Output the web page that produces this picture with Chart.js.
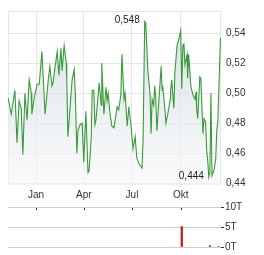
<!DOCTYPE html>
<html>
<head>
<meta charset="utf-8">
<script src="https://cdn.jsdelivr.net/npm/chart.js@4/dist/chart.umd.min.js"></script>
<style>
  html, body { margin: 0; padding: 0; background: #fff; }
  #wrap { position: relative; width: 264px; height: 255px; }
  canvas { position: absolute; left: 0; }
  #priceChart { top: 0; }
  #volumeChart { top: 200px; }
</style>
</head>
<body>
<div id="wrap">
  <canvas id="priceChart" width="264" height="200"></canvas>
  <canvas id="volumeChart" width="264" height="55"></canvas>
</div>
<script>
// Day offsets from 1 Jan
const days = [-53,-49,-47,-43,-40,-36,-32,-28,-25,-21,-17,-13,-9,-8,-4,2,6,11,17,23,26,30,32,36,40,43,47,49,53,57,58,60,64,68,72,74,77,79,83,87,90,94,98,100,104,106,109,111,113,119,123,124,128,132,134,136,139,143,147,153,156,160,162,166,168,172,175,179,183,187,190,194,196,200,202,205,207,211,215,217,219,222,224,226,228,232,236,238,239,243,245,249,253,254,256,260,262,266,270,273,275,277,279,281,285,286,288,292,296,300,302,303,305,309,311,315,317,320,322,324,326,328,330,332,336,339,341,343,348];
const prices = [0.497,0.490,0.486,0.495,0.502,0.467,0.495,0.490,0.459,0.500,0.482,0.509,0.500,0.486,0.496,0.506,0.506,0.528,0.486,0.509,0.518,0.505,0.507,0.518,0.528,0.512,0.530,0.515,0.532,0.520,0.509,0.471,0.490,0.509,0.516,0.500,0.460,0.475,0.479,0.480,0.454,0.488,0.447,0.448,0.470,0.502,0.502,0.479,0.482,0.507,0.492,0.520,0.486,0.504,0.495,0.500,0.488,0.478,0.477,0.491,0.489,0.499,0.526,0.496,0.500,0.478,0.491,0.479,0.463,0.471,0.457,0.453,0.452,0.450,0.470,0.548,0.547,0.515,0.500,0.473,0.496,0.492,0.505,0.496,0.475,0.496,0.518,0.502,0.505,0.490,0.480,0.487,0.496,0.502,0.509,0.490,0.514,0.532,0.537,0.542,0.503,0.532,0.533,0.519,0.526,0.510,0.526,0.505,0.499,0.496,0.501,0.490,0.483,0.511,0.510,0.473,0.483,0.481,0.462,0.455,0.444,0.447,0.500,0.445,0.449,0.456,0.475,0.481,0.537];

const monthDays = [0, 90, 181, 273];
const monthLabels = ['Jan', 'Apr', 'Jul', 'Okt'];
const priceTicks = [0.44, 0.46, 0.48, 0.50, 0.52, 0.54];

const volDays = [275, 328, 345];
const volValues = [5.1, 0.3, 0.15];
const volDirection = ['down', 'down', 'up'];
const volTicks = [0, 5, 10];

const X_MIN = -53;
const X_MAX = 349;
const GRID = '#e6e6e6';
const TEXT = '#333';

Chart.defaults.font.family = '"Liberation Sans", Arial, sans-serif';
Chart.defaults.font.size = 10;
Chart.defaults.color = TEXT;

function fmt(v, digits) {
    return v.toFixed(digits).replace('.', ',');
}

// frame around the price plot
const framePlugin = {
    id: 'frame',
    beforeDatasetsDraw(chart) {
        const { ctx, chartArea: a } = chart;
        ctx.save();
        ctx.strokeStyle = GRID;
        ctx.lineWidth = 1;
        ctx.strokeRect(a.left + 0.5, a.top + 0.5, a.width - 1, a.height - 1);
        ctx.restore();
    }
};

// high / low labels
const extremesPlugin = {
    id: 'extremes',
    afterDatasetsDraw(chart) {
        const { ctx, scales } = chart;
        let hi = 0, lo = 0;
        prices.forEach((p, i) => {
            if (p > prices[hi]) hi = i;
            if (p < prices[lo]) lo = i;
        });
        ctx.save();
        ctx.font = '10px "Liberation Sans", Arial, sans-serif';
        ctx.fillStyle = '#222';
        ctx.textAlign = 'right';
        ctx.textBaseline = 'middle';
        [hi, lo].forEach(i => {
            const x = scales.x.getPixelForValue(days[i]);
            const y = scales.y.getPixelForValue(prices[i]);
            ctx.fillText(fmt(prices[i], 3), x - 5, y - 1);
        });
        ctx.restore();
    }
};

const priceCtx = document.getElementById('priceChart');
new Chart(priceCtx, {
    type: 'line',
    data: {
        datasets: [{
            data: days.map((d, i) => ({ x: d, y: prices[i] })),
            borderColor: '#3a9a3a',
            borderWidth: 1.1,
            pointRadius: 0,
            tension: 0,
            fill: 'start',
            backgroundColor: (c) => {
                const area = c.chart.chartArea;
                if (!area) return 'rgba(220,226,232,0.6)';
                const g = c.chart.ctx.createLinearGradient(0, area.top, 0, area.bottom);
                g.addColorStop(0, 'rgba(205,214,222,0.8)');
                g.addColorStop(1, 'rgba(245,247,248,0.6)');
                return g;
            }
        }]
    },
    options: {
        responsive: false,
        animation: false,
        layout: { padding: { top: 7, left: 8, right: 0, bottom: 0 } },
        plugins: { legend: { display: false }, tooltip: { enabled: false } },
        scales: {
            x: {
                type: 'linear',
                min: X_MIN,
                max: X_MAX,
                afterBuildTicks: (axis) => { axis.ticks = monthDays.map(v => ({ value: v })); },
                afterFit: (axis) => { axis.height = 15; },
                ticks: {
                    padding: 4,
                    autoSkip: false,
                    maxRotation: 0,
                    callback: (v) => monthLabels[monthDays.indexOf(v)] || ''
                },
                grid: { color: GRID, drawTicks: false },
                border: { display: false }
            },
            y: {
                position: 'right',
                min: 0.4387,
                max: 0.555,
                afterBuildTicks: (axis) => { axis.ticks = priceTicks.map(v => ({ value: v })); },
                afterFit: (axis) => { axis.width = 43; },
                ticks: {
                    padding: 5,
                    callback: (v) => fmt(v, 2)
                },
                grid: { color: GRID, drawTicks: false },
                border: { display: false }
            }
        }
    },
    plugins: [framePlugin, extremesPlugin]
});

// small month marks under the top volume line
const monthMarks = {
    id: 'monthMarks',
    afterDraw(chart) {
        const { ctx, scales, chartArea } = chart;
        ctx.save();
        ctx.strokeStyle = '#222';
        ctx.lineWidth = 1;
        monthDays.forEach(d => {
            const x = Math.round(scales.x.getPixelForValue(d)) + 0.5;
            ctx.beginPath();
            ctx.moveTo(x, chartArea.top + 1);
            ctx.lineTo(x, chartArea.top + 3);
            ctx.stroke();
        });
        ctx.restore();
    }
};

const volumeCtx = document.getElementById('volumeChart');
new Chart(volumeCtx, {
    type: 'bar',
    data: {
        datasets: [{
            data: volDays.map((d, i) => ({ x: d, y: volValues[i] })),
            backgroundColor: volDirection.map(v => v === 'up' ? '#3a9a3a' : '#cc1111'),
            barThickness: 1.5,
            grouped: false
        }]
    },
    options: {
        responsive: false,
        animation: false,
        layout: { padding: { top: 7, left: 8, right: 0, bottom: 8 } },
        plugins: { legend: { display: false }, tooltip: { enabled: false } },
        scales: {
            x: {
                type: 'linear',
                min: X_MIN,
                max: X_MAX,
                offset: false,
                grid: { offset: false },
                display: false
            },
            y: {
                position: 'right',
                min: 0,
                max: 10,
                afterBuildTicks: (axis) => { axis.ticks = volTicks.map(v => ({ value: v })); },
                afterFit: (axis) => { axis.width = 43; },
                ticks: {
                    padding: 1,
                    callback: (v) => v + 'T'
                },
                grid: { color: '#cccccc', tickColor: '#333', tickLength: 3 },
                border: { display: false }
            }
        }
    },
    plugins: [monthMarks]
});
</script>
</body>
</html>
